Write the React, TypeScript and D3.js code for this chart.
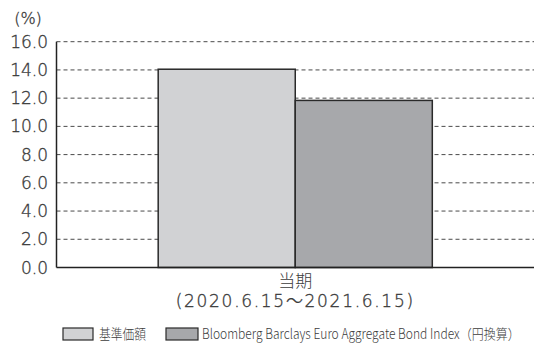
import React, { useLayoutEffect, useRef, useState } from "react";
import * as d3 from "d3";

const categories = ["当期"];
const periodLabel = "(2020.6.15～2021.6.15)";
const seriesNames = ["基準価額", "Bloomberg Barclays Euro Aggregate Bond Index（円換算）"];
const seriesValues = [14.05, 11.84];
const yTicks = [0, 2, 4, 6, 8, 10, 12, 14, 16];
const fills = ["#d1d2d4", "#a7a8ab"];

const W = 534;
const H = 350;
const margin = { left: 56.5, right: 0, top: 41.7, bottom: 82.5 };
const FONT = "'Noto Sans CJK JP', 'Noto Sans', sans-serif";
const NUM_FONT = "'DejaVu Sans', 'Noto Sans CJK JP', sans-serif";
const INK = "#3c3c3c";

// Legend labels are drawn condensed to fit their slot widths.
const legendSlots = [
  { boxX: 63, boxW: 30, textX: 99, textW: 47 },
  { boxX: 166, boxW: 32, textX: 202, textW: 318 },
];

function CondensedLabel({ x, y, width, text, size }: { x: number; y: number; width: number; text: string; size: number }) {
  const ref = useRef<SVGTextElement>(null);
  const [sx, setSx] = useState(1);
  useLayoutEffect(() => {
    if (ref.current) {
      const natural = ref.current.getComputedTextLength();
      if (natural > 0) setSx(width / natural);
    }
  }, [width, text]);
  return (
    <text
      ref={ref}
      transform={`translate(${x},${y}) scale(${sx},1)`}
      fontFamily={FONT}
      fontWeight={300}
      fontSize={size}
      fill={INK}
    >
      {text}
    </text>
  );
}

export default function App() {
  const x = d3
    .scaleBand<string>()
    .domain(categories)
    .range([margin.left, W - margin.right])
    .paddingInner(0)
    .paddingOuter(0.371);
  const y = d3.scaleLinear().domain([0, 16]).range([H - margin.bottom, margin.top]);
  const sub = d3
    .scaleBand<number>()
    .domain(seriesValues.map((_, i) => i))
    .range([0, x.bandwidth()]);
  const cx = (x(categories[0]) ?? 0) + x.bandwidth() / 2;

  const numStyle = { stroke: INK, strokeWidth: 0.35 };

  return (
    <svg width={W} height={H} style={{ position: "absolute", left: 0, top: 0 }}>
      <rect width={W} height={H} fill="#fff" />
      {/* dashed gridlines */}
      {yTicks.filter((t) => t > 0).map((t) => (
        <line
          key={t}
          x1={margin.left}
          x2={W - margin.right}
          y1={y(t)}
          y2={y(t)}
          stroke="#4a4a4a"
          strokeWidth={1}
          strokeDasharray="4 3"
        />
      ))}
      {/* bars */}
      {seriesValues.map((v, i) => (
        <rect
          key={i}
          x={(x(categories[0]) ?? 0) + (sub(i) ?? 0)}
          y={y(v)}
          width={sub.bandwidth()}
          height={y(0) - y(v)}
          fill={fills[i]}
          stroke="#2a2a2a"
          strokeWidth={1.5}
        />
      ))}
      {/* axes */}
      <line x1={margin.left} x2={margin.left} y1={margin.top} y2={y(0)} stroke="#222" strokeWidth={1.5} />
      <line x1={margin.left} x2={W - margin.right} y1={y(0)} y2={y(0)} stroke="#222" strokeWidth={1.5} />
      {yTicks.map((t) => (
        <text
          key={t}
          x={48}
          y={y(t)}
          dy="0.36em"
          textAnchor="end"
          fontFamily={NUM_FONT}
          fontWeight={200}
          fontSize={17}
          fill={INK}
          style={numStyle}
        >
          {t.toFixed(1)}
        </text>
      ))}
      <text x={28} y={24} textAnchor="middle" fontFamily={NUM_FONT} fontWeight={200} fontSize={16} fill={INK} style={numStyle}>
        (%)
      </text>
      {/* category label */}
      <text x={cx} y={287} textAnchor="middle" fontFamily={FONT} fontWeight={300} fontSize={17} fill={INK}>
        {categories[0]}
      </text>
      <text
        x={cx}
        y={307}
        textAnchor="middle"
        fontFamily={NUM_FONT}
        fontWeight={200}
        fontSize={17}
        letterSpacing={1.7}
        fill={INK}
        style={numStyle}
      >
        {periodLabel}
      </text>
      {/* legend */}
      {seriesNames.map((name, i) => {
        const s = legendSlots[i];
        return (
          <g key={name}>
            <rect x={s.boxX} y={328} width={s.boxW} height={12} fill={fills[i]} stroke="#2a2a2a" strokeWidth={1.2} />
            <CondensedLabel x={s.textX} y={339} width={s.textW} text={name} size={14} />
          </g>
        );
      })}
    </svg>
  );
}
